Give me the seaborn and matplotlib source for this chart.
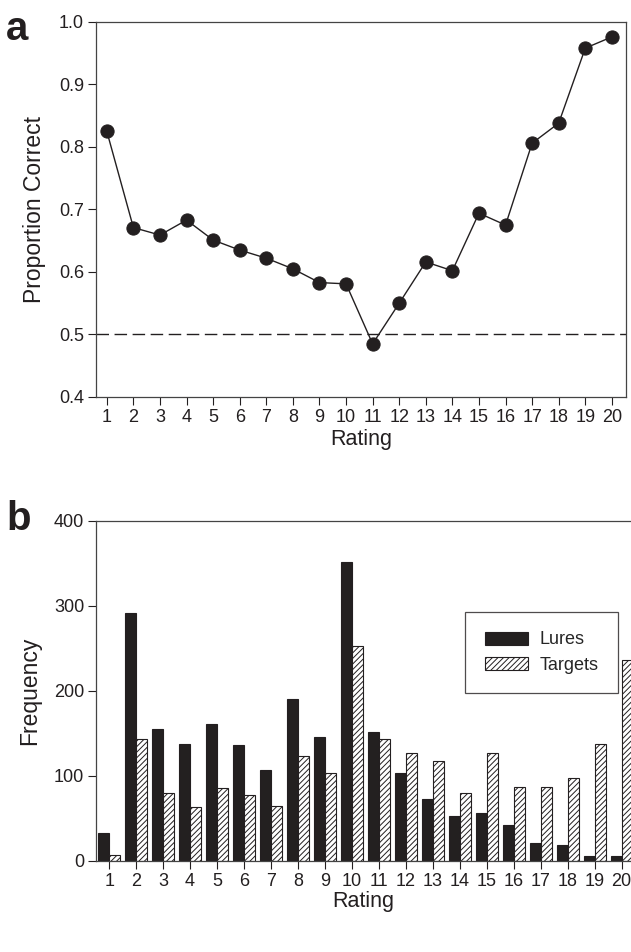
import pandas as pd
import matplotlib.pyplot as plt
import seaborn as sns

# ratings 1..20
ratings = list(range(1, 21))

# panel a: proportion correct per rating
prop_correct = [0.825, 0.671, 0.659, 0.683, 0.651, 0.635, 0.622, 0.605, 0.583, 0.581,
                0.485, 0.550, 0.616, 0.602, 0.694, 0.675, 0.806, 0.838, 0.958, 0.976]

# panel b: frequencies
lures = [33, 292, 155, 138, 161, 136, 107, 190, 146, 351,
         152, 104, 73, 53, 56, 42, 21, 19, 6, 6]
targets = [7, 143, 80, 64, 86, 78, 65, 124, 104, 253,
           143, 127, 117, 80, 127, 87, 87, 98, 138, 236]

sns.set_style('ticks')
plt.rcParams['font.family'] = ['Liberation Sans', 'DejaVu Sans']
plt.rcParams['hatch.linewidth'] = 0.7
ink = '#231f20'

fig = plt.figure(figsize=(6.31, 9.52), dpi=100)
ax1 = fig.add_axes([0.152, 0.583, 0.84, 0.394])
ax2 = fig.add_axes([0.152, 0.0956, 0.848, 0.3574])

# ---- panel a
df_a = pd.DataFrame({'Rating': ratings, 'Prop': prop_correct})
sns.lineplot(data=df_a, x='Rating', y='Prop', ax=ax1, color=ink, linewidth=1,
             marker='o', markersize=9.5, markeredgecolor=ink, markerfacecolor=ink)
ax1.axhline(0.5, color=ink, linewidth=1, dashes=(9, 4))
ax1.set_xlim(0.59, 20.53)
ax1.set_ylim(0.4, 1.0)
ax1.set_xticks(ratings)
ax1.set_yticks([0.4, 0.5, 0.6, 0.7, 0.8, 0.9, 1.0])
ax1.set_yticklabels(['0.4', '0.5', '0.6', '0.7', '0.8', '0.9', '1.0'])
ax1.set_xlabel('Rating', fontsize=15.5, color=ink, labelpad=2)
ax1.set_ylabel('Proportion Correct', fontsize=16.5, color=ink, labelpad=9)

# ---- panel b
df_b = pd.DataFrame({
    'Rating': ratings * 2,
    'Frequency': lures + targets,
    'Type': ['Lures'] * 20 + ['Targets'] * 20,
})
sns.barplot(data=df_b, x='Rating', y='Frequency', hue='Type', ax=ax2,
            native_scale=True, width=0.82, gap=0,
            palette={'Lures': ink, 'Targets': 'white'},
            edgecolor=ink, linewidth=0.8)
for bar in ax2.containers[1]:
    bar.set_hatch('//////')
ax2.set_xlim(0.51, 20.35)
ax2.set_ylim(0, 400)
ax2.set_xticks(ratings)
ax2.set_yticks([0, 100, 200, 300, 400])
ax2.set_xlabel('Rating', fontsize=15.5, color=ink, labelpad=1)
ax2.set_ylabel('Frequency', fontsize=16.5, color=ink, labelpad=9)
ax2.spines['right'].set_visible(False)
leg = ax2.legend(title=None, loc='upper left', bbox_to_anchor=(0.69, 0.733),
                 borderaxespad=0, fontsize=13, frameon=True, fancybox=False,
                 edgecolor=ink, handlelength=2.4, handleheight=0.75,
                 borderpad=1.1, labelspacing=0.45, handletextpad=0.6)
leg.get_frame().set_linewidth(0.9)
leg.get_frame().set_boxstyle('square', pad=0)
for h in leg.legend_handles:
    h.set_edgecolor(ink)
leg.legend_handles[1].set_hatch('//////')

for ax in (ax1, ax2):
    ax.tick_params(labelsize=13, colors=ink, length=5.5, width=0.8, pad=3)
    for s in ('left', 'bottom', 'top', 'right'):
        ax.spines[s].set_color('#444444')
        ax.spines[s].set_linewidth(0.9)

fig.text(0.01, 0.99, 'a', fontsize=29, fontweight='bold', color=ink, va='top')
fig.text(0.01, 0.475, 'b', fontsize=29, fontweight='bold', color=ink, va='top')

fig.savefig('out.png', dpi=100)
